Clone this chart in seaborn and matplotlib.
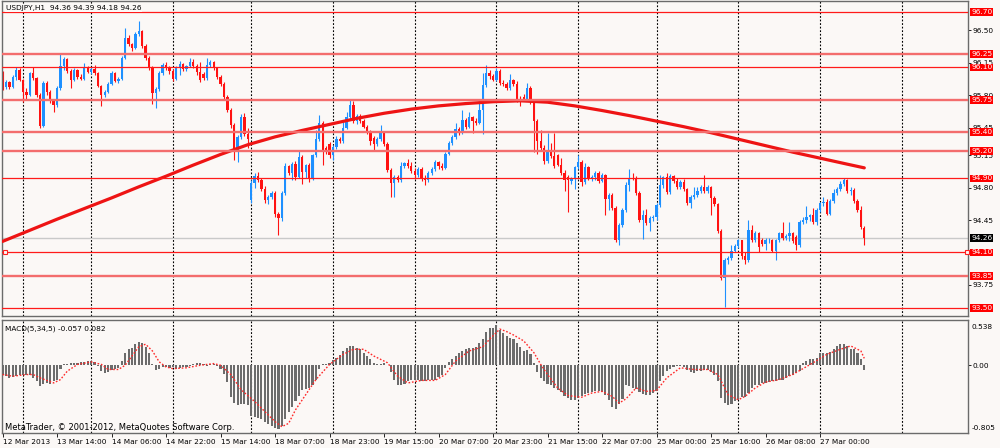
import numpy as np
import pandas as pd
import matplotlib
matplotlib.use("Agg")
import matplotlib.pyplot as plt
import seaborn as sns

# ---------------- data ----------------
header_text = "USDJPY,H1  94.36 94.39 94.18 94.26"
macd_text = "MACD(5,34,5) -0.057 0.082"
copyright_text = "MetaTrader, \u00a9 2001-2012, MetaQuotes Software Corp."

opens = [
    96.04, 95.89, 95.94, 95.89, 96.00, 96.07, 95.97, 95.84, 95.80, 96.04,
    95.99, 95.80, 95.47, 95.93, 95.84, 95.74, 95.69, 95.88, 96.12, 96.19,
    96.06, 95.97, 96.07, 96.00, 95.98, 96.10, 96.05, 96.08, 96.04, 95.90,
    95.80, 95.84, 95.92, 96.04, 95.95, 95.98, 96.20, 96.42, 96.35, 96.31,
    96.46, 96.49, 96.33, 96.20, 96.09, 95.82, 95.87, 96.04, 96.13, 96.10,
    96.06, 95.98, 96.10, 96.14, 96.08, 96.12, 96.16, 96.12, 96.05, 96.03,
    95.99, 96.13, 96.16, 96.09, 96.00, 95.92, 95.78, 95.64, 95.48, 95.21,
    95.35, 95.57, 95.38, 94.67, 94.85, 94.93, 94.88, 94.79, 94.67, 94.70,
    94.74, 94.52, 94.47, 94.74, 95.03, 94.96, 95.06, 94.92, 95.13, 94.97,
    95.05, 94.90, 95.15, 95.33, 95.50, 95.23, 95.27, 95.15, 95.24, 95.33,
    95.30, 95.45, 95.56, 95.69, 95.52, 95.58, 95.52, 95.46, 95.40, 95.34,
    95.27, 95.33, 95.40, 95.27, 94.99, 94.85, 94.92, 94.88, 95.04, 95.07,
    95.03, 94.98, 94.94, 95.00, 94.90, 94.88, 94.96, 95.00, 95.08, 95.04,
    95.01, 95.17, 95.28, 95.35, 95.44, 95.40, 95.53, 95.46, 95.57, 95.52,
    95.50, 95.64, 95.91, 96.04, 96.01, 95.97, 96.06, 95.93, 95.92, 95.88,
    95.96, 95.92, 95.75, 95.78, 95.76, 95.88, 95.74, 95.52, 95.30, 95.23,
    95.09, 95.21, 95.14, 95.15, 95.05, 94.96, 94.92, 94.87, 94.90, 95.02,
    95.08, 94.86, 95.02, 94.90, 94.92, 94.96, 94.87, 94.94, 94.68, 94.72,
    94.58, 94.24, 94.40, 94.56, 94.83, 94.91, 94.90, 94.74, 94.45, 94.50,
    94.42, 94.47, 94.48, 94.61, 94.83, 94.92, 94.75, 94.93, 94.87, 94.81,
    94.86, 94.79, 94.63, 94.70, 94.72, 94.76, 94.81, 94.76, 94.81, 94.69,
    94.62, 94.33, 93.82, 94.02, 94.04, 94.12, 94.17, 94.23, 94.06, 94.02,
    94.34, 94.23, 94.31, 94.24, 94.19, 94.23, 94.24, 94.12, 94.23, 94.31,
    94.26, 94.28, 94.31, 94.27, 94.18, 94.43, 94.45, 94.48, 94.50, 94.43,
    94.56, 94.63, 94.65, 94.52, 94.66, 94.74, 94.79, 94.84, 94.88, 94.76,
    94.78, 94.66, 94.56, 94.36,
]
highs = [
    96.06, 95.96, 95.95, 96.02, 96.11, 96.09, 95.98, 95.88, 96.05, 96.11,
    96.00, 95.82, 95.95, 95.95, 95.86, 95.76, 95.90, 96.25, 96.21, 96.20,
    96.08, 96.09, 96.08, 96.03, 96.15, 96.12, 96.10, 96.13, 96.05, 95.91,
    95.86, 95.94, 96.06, 96.05, 96.00, 96.22, 96.53, 96.45, 96.37, 96.48,
    96.60, 96.50, 96.35, 96.22, 96.12, 95.89, 96.06, 96.15, 96.16, 96.12,
    96.08, 96.12, 96.17, 96.15, 96.13, 96.20, 96.19, 96.14, 96.16, 96.05,
    96.20, 96.18, 96.17, 96.11, 96.02, 95.94, 95.80, 95.66, 95.50, 95.37,
    95.60, 95.61, 95.45, 94.88, 94.96, 94.97, 94.91, 94.82, 94.72, 94.76,
    94.76, 94.54, 94.76, 95.07, 95.05, 95.08, 95.09, 95.20, 95.15, 95.06,
    95.07, 95.17, 95.42, 95.59, 95.52, 95.25, 95.29, 95.26, 95.36, 95.35,
    95.51, 95.62, 95.75, 95.74, 95.60, 95.60, 95.54, 95.48, 95.42, 95.36,
    95.35, 95.48, 95.41, 95.29, 95.01, 94.94, 94.94, 95.08, 95.08, 95.11,
    95.08, 95.01, 95.02, 95.02, 94.94, 94.98, 95.02, 95.10, 95.09, 95.07,
    95.19, 95.31, 95.37, 95.50, 95.46, 95.64, 95.55, 95.62, 95.58, 95.55,
    95.75, 96.04, 96.13, 96.07, 96.03, 96.09, 96.08, 95.96, 95.94, 96.03,
    95.98, 95.95, 95.79, 95.81, 95.93, 95.90, 95.76, 95.54, 95.42, 95.26,
    95.39, 95.28, 95.39, 95.17, 95.12, 94.99, 94.94, 94.92, 95.04, 95.15,
    95.10, 95.07, 95.04, 94.94, 94.98, 94.98, 94.96, 94.95, 94.74, 94.74,
    94.60, 94.42, 94.58, 94.86, 95.00, 94.96, 94.93, 94.76, 94.56, 94.57,
    94.49, 94.50, 94.63, 94.94, 94.93, 94.96, 94.95, 94.94, 94.90, 94.88,
    94.89, 94.80, 94.72, 94.81, 94.81, 94.83, 94.94, 94.83, 94.82, 94.71,
    94.64, 94.35, 94.04, 94.06, 94.18, 94.19, 94.25, 94.24, 94.10, 94.45,
    94.40, 94.33, 94.32, 94.26, 94.26, 94.26, 94.25, 94.25, 94.32, 94.43,
    94.30, 94.43, 94.32, 94.29, 94.45, 94.48, 94.60, 94.52, 94.58, 94.58,
    94.65, 94.70, 94.68, 94.68, 94.79, 94.81, 94.87, 94.90, 94.89, 94.81,
    94.80, 94.68, 94.60, 94.39,
]
lows = [
    95.86, 95.87, 95.87, 95.88, 95.96, 95.95, 95.73, 95.76, 95.79, 95.97,
    95.78, 95.45, 95.46, 95.80, 95.72, 95.62, 95.67, 95.86, 96.07, 96.04,
    95.88, 95.95, 95.98, 95.96, 95.97, 96.04, 96.03, 96.02, 95.89, 95.68,
    95.78, 95.82, 95.91, 95.94, 95.93, 95.96, 96.19, 96.33, 96.28, 96.30,
    96.44, 96.31, 96.18, 96.07, 95.71, 95.66, 95.85, 96.02, 96.07, 96.03,
    95.95, 95.96, 96.02, 96.06, 96.06, 96.10, 96.09, 96.02, 95.94, 95.96,
    95.97, 96.11, 96.07, 95.98, 95.90, 95.76, 95.62, 95.45, 95.10, 95.08,
    95.33, 95.36, 95.23, 94.64, 94.80, 94.86, 94.77, 94.64, 94.62, 94.68,
    94.48, 94.29, 94.44, 94.72, 94.94, 94.88, 94.88, 94.90, 94.84, 94.90,
    94.86, 94.88, 95.13, 95.31, 95.05, 95.16, 95.12, 95.10, 95.22, 95.28,
    95.28, 95.43, 95.54, 95.50, 95.49, 95.50, 95.45, 95.38, 95.26, 95.21,
    95.25, 95.31, 95.25, 94.97, 94.70, 94.70, 94.86, 94.86, 95.01, 95.01,
    94.96, 94.89, 94.92, 94.87, 94.83, 94.86, 94.94, 94.98, 95.00, 94.99,
    95.00, 95.15, 95.26, 95.33, 95.37, 95.38, 95.44, 95.45, 95.39, 95.48,
    95.49, 95.38, 95.89, 95.98, 95.95, 95.95, 95.91, 95.90, 95.86, 95.86,
    95.90, 95.73, 95.68, 95.74, 95.74, 95.70, 95.19, 95.17, 95.21, 95.06,
    95.07, 95.12, 95.01, 95.03, 94.94, 94.76, 94.54, 94.84, 94.79, 95.00,
    94.82, 94.84, 94.88, 94.87, 94.88, 94.85, 94.86, 94.51, 94.56, 94.56,
    94.21, 94.18, 94.38, 94.54, 94.76, 94.88, 94.72, 94.43, 94.25, 94.40,
    94.33, 94.44, 94.45, 94.59, 94.80, 94.73, 94.73, 94.85, 94.79, 94.79,
    94.77, 94.61, 94.58, 94.68, 94.70, 94.74, 94.74, 94.74, 94.51, 94.60,
    94.31, 93.80, 93.51, 93.98, 94.02, 94.10, 94.15, 94.03, 93.98, 94.00,
    94.21, 94.21, 94.11, 94.17, 94.13, 94.20, 94.10, 94.02, 94.21, 94.24,
    94.23, 94.22, 94.20, 94.13, 94.16, 94.41, 94.42, 94.44, 94.41, 94.40,
    94.54, 94.60, 94.50, 94.50, 94.64, 94.72, 94.77, 94.82, 94.74, 94.72,
    94.64, 94.54, 94.35, 94.18,
]
closes = [
    95.89, 95.94, 95.89, 96.00, 96.07, 95.97, 95.84, 95.80, 96.04, 95.99,
    95.80, 95.47, 95.93, 95.84, 95.74, 95.69, 95.88, 96.12, 96.19, 96.06,
    95.97, 96.07, 96.00, 95.98, 96.10, 96.05, 96.08, 96.04, 95.90, 95.80,
    95.84, 95.92, 96.04, 95.95, 95.98, 96.20, 96.42, 96.35, 96.31, 96.46,
    96.49, 96.33, 96.20, 96.09, 95.82, 95.87, 96.04, 96.13, 96.10, 96.06,
    95.98, 96.10, 96.14, 96.08, 96.12, 96.16, 96.12, 96.05, 95.97, 95.99,
    96.13, 96.16, 96.09, 96.00, 95.92, 95.78, 95.64, 95.48, 95.21, 95.35,
    95.57, 95.38, 95.33, 94.85, 94.93, 94.88, 94.79, 94.67, 94.70, 94.74,
    94.52, 94.47, 94.74, 95.03, 94.96, 95.06, 94.92, 95.13, 94.97, 95.05,
    94.90, 95.15, 95.33, 95.50, 95.20, 95.19, 95.15, 95.24, 95.33, 95.30,
    95.45, 95.56, 95.69, 95.52, 95.58, 95.52, 95.46, 95.40, 95.30, 95.27,
    95.33, 95.40, 95.27, 94.99, 94.85, 94.92, 94.88, 95.04, 95.07, 95.03,
    94.98, 94.94, 95.00, 94.90, 94.88, 94.96, 95.00, 95.08, 95.04, 95.01,
    95.17, 95.28, 95.35, 95.44, 95.40, 95.53, 95.46, 95.57, 95.52, 95.50,
    95.64, 95.91, 96.04, 96.01, 95.97, 96.06, 95.93, 95.92, 95.88, 95.96,
    95.92, 95.75, 95.73, 95.76, 95.88, 95.74, 95.52, 95.30, 95.23, 95.09,
    95.21, 95.14, 95.04, 95.05, 94.96, 94.88, 94.88, 94.90, 95.02, 95.08,
    94.86, 95.02, 94.90, 94.92, 94.96, 94.87, 94.94, 94.68, 94.72, 94.58,
    94.24, 94.40, 94.56, 94.83, 94.91, 94.90, 94.74, 94.45, 94.50, 94.42,
    94.47, 94.48, 94.61, 94.83, 94.92, 94.75, 94.93, 94.87, 94.81, 94.86,
    94.79, 94.63, 94.70, 94.72, 94.76, 94.81, 94.76, 94.81, 94.69, 94.62,
    94.33, 93.82, 94.02, 94.04, 94.12, 94.17, 94.23, 94.06, 94.02, 94.34,
    94.23, 94.31, 94.16, 94.19, 94.23, 94.24, 94.12, 94.23, 94.31, 94.26,
    94.28, 94.31, 94.22, 94.18, 94.43, 94.45, 94.48, 94.50, 94.43, 94.56,
    94.63, 94.65, 94.52, 94.66, 94.74, 94.79, 94.84, 94.88, 94.76, 94.78,
    94.66, 94.56, 94.38, 94.26,
]

# moving average (thick red curve), read at every 8th bar
ma_bar = [0, 8, 16, 24, 32, 40, 48, 56, 64, 72, 80, 88, 96, 104, 112, 120,
          128, 136, 144, 152, 160, 168, 176, 184, 192, 200, 208, 216, 224,
          232, 240, 248, 253]
ma_value = [94.22, 94.34, 94.46, 94.575, 94.69, 94.81, 94.925, 95.045,
            95.16, 95.265, 95.35, 95.42, 95.485, 95.55, 95.605, 95.65,
            95.685, 95.71, 95.73, 95.74, 95.725, 95.685, 95.635, 95.58,
            95.52, 95.46, 95.395, 95.325, 95.255, 95.185, 95.12, 95.055,
            95.015]

# MACD(5,34,5) histogram, one value per bar
macd_hist = [
    -0.11, -0.13, -0.15, -0.14, -0.13, -0.12, -0.11, -0.11, -0.12, -0.15,
    -0.19, -0.25, -0.22, -0.21, -0.22, -0.19, -0.17, -0.05, 0.01, 0.02,
    0.03, 0.03, 0.03, 0.04, 0.04, 0.05, 0.055, 0.04, -0.01, -0.07,
    -0.09, -0.08, -0.06, -0.05, -0.03, 0.05, 0.15, 0.19, 0.21, 0.25,
    0.28, 0.27, 0.22, 0.15, 0.01, -0.06, -0.05, -0.02, -0.02, -0.03,
    -0.02, -0.04, -0.035, -0.02, -0.02, -0.01, 0.02, 0.03, 0.03, 0.015,
    -0.005, 0.02, 0.015, -0.005, -0.05, -0.10, -0.20, -0.38, -0.45, -0.47,
    -0.46, -0.46, -0.47, -0.60, -0.62, -0.63, -0.64, -0.68, -0.70, -0.72,
    -0.74, -0.76, -0.72, -0.64, -0.56, -0.50, -0.43, -0.36, -0.29, -0.28,
    -0.27, -0.24, -0.17, -0.05, 0.01, 0.01, 0.03, 0.06, 0.09, 0.12,
    0.17, 0.21, 0.23, 0.23, 0.21, 0.19, 0.15, 0.11, 0.07, 0.03,
    0.02, 0.02, 0.03, 0.00, -0.08, -0.17, -0.23, -0.24, -0.22, -0.19,
    -0.18, -0.18, -0.17, -0.19, -0.19, -0.18, -0.17, -0.17, -0.14, -0.11,
    -0.03, 0.04, 0.07, 0.11, 0.14, 0.17, 0.19, 0.21, 0.21, 0.22,
    0.26, 0.31, 0.40, 0.44, 0.44, 0.48, 0.42, 0.38, 0.35, 0.33,
    0.31, 0.27, 0.22, 0.17, 0.18, 0.13, 0.03, -0.08, -0.15, -0.19,
    -0.22, -0.24, -0.27, -0.29, -0.32, -0.36, -0.39, -0.41, -0.41, -0.39,
    -0.37, -0.34, -0.33, -0.32, -0.31, -0.31, -0.32, -0.35, -0.41, -0.50,
    -0.52, -0.46, -0.40, -0.24, -0.25, -0.27, -0.28, -0.32, -0.34, -0.35,
    -0.35, -0.33, -0.31, -0.19, -0.13, -0.07, -0.04, -0.02, -0.005, -0.01,
    -0.02, -0.06, -0.08, -0.09, -0.07, -0.07, -0.06, -0.06, -0.08, -0.12,
    -0.19, -0.39, -0.45, -0.47, -0.46, -0.43, -0.41, -0.38, -0.38, -0.33,
    -0.27, -0.24, -0.23, -0.21, -0.21, -0.20, -0.19, -0.19, -0.18, -0.17,
    -0.15, -0.13, -0.11, -0.09, -0.07, 0.03, 0.05, 0.07, 0.07, 0.09,
    0.14, 0.15, 0.15, 0.155, 0.19, 0.23, 0.25, 0.25, 0.23, 0.19,
    0.19, 0.15, 0.07, -0.057,
]

# MACD signal (red dotted line)
signal_bar = [0, 3, 7, 9, 11, 15, 17, 19, 22, 26, 29, 31, 34, 36, 38, 40, 42,
              44, 46, 48, 50, 54, 58, 62, 64, 67, 70, 74, 77, 80, 82, 84, 86,
              89, 92, 96, 100, 103, 106, 109, 113, 116, 119, 123, 127, 130,
              133, 137, 141, 143, 146, 148, 150, 153, 156, 158, 160, 163, 166,
              170, 173, 176, 179, 181, 183, 186, 189, 192, 195, 199, 203, 207,
              210, 213, 216, 218, 221, 224, 228, 232, 235, 238, 242, 246, 249,
              252, 253]
signal_value = [-0.11, -0.13, -0.11, -0.11, -0.15, -0.21, -0.17, -0.07, 0.01,
                0.04, 0.01, -0.05, -0.05, 0.00, 0.11, 0.22, 0.25, 0.17, 0.04,
                -0.02, -0.04, -0.03, 0.00, 0.02, 0.00, -0.11, -0.29, -0.43,
                -0.55, -0.67, -0.73, -0.69, -0.53, -0.35, -0.17, 0.01, 0.13,
                0.19, 0.19, 0.11, 0.03, -0.13, -0.21, -0.18, -0.18, -0.11,
                0.05, 0.17, 0.22, 0.31, 0.43, 0.40, 0.36, 0.29, 0.15, 0.01,
                -0.11, -0.27, -0.36, -0.38, -0.33, -0.31, -0.37, -0.45, -0.40,
                -0.27, -0.31, -0.30, -0.15, -0.03, -0.05, -0.05, -0.11, -0.35,
                -0.41, -0.37, -0.27, -0.20, -0.17, -0.11, -0.04, 0.03, 0.13,
                0.19, 0.23, 0.17, 0.082]

# horizontal price levels (red lines with red price tags)
levels = [96.70, 96.25, 96.10, 95.75, 95.40, 95.20, 94.90, 94.10, 93.85, 93.50]
wide_levels = [96.25, 95.75, 95.40, 95.20, 93.85]
anchored_level = 94.10
last_price = 94.26

price_ticks = [96.50, 96.15, 95.80, 95.45, 95.15, 94.80, 94.45, 94.10, 93.75]
macd_max, macd_min = 0.538, -0.805

time_tick_bar = [0, 16, 32, 48, 64, 80, 96, 112, 128, 144, 160, 176, 192,
                 208, 224, 240]
time_tick_label = ["12 Mar 2013", "13 Mar 14:00", "14 Mar 06:00",
                   "14 Mar 22:00", "15 Mar 14:00", "18 Mar 07:00",
                   "18 Mar 23:00", "19 Mar 15:00", "20 Mar 07:00",
                   "20 Mar 23:00", "21 Mar 15:00", "22 Mar 07:00",
                   "25 Mar 00:00", "25 Mar 16:00", "26 Mar 08:00",
                   "27 Mar 00:00"]
day_start_bar = [6, 26, 50, 73, 97, 121, 145, 169, 192, 216, 240, 264]

# ---------------- style ----------------
sns.set_theme(style="white")
plt.rcParams["font.family"] = ["DejaVu Sans"]

BG = "#fbf8f6"
BULL = "#1e90ff"
BEAR = "#ff1212"
FS = 5.3
XLIM = (-0.164, 283.45)
YLIM = (93.4135, 96.8189)

fig = plt.figure(figsize=(10, 4.48), dpi=100, facecolor=BG)
ax = fig.add_axes([0.002, 132 / 448, 0.966, 315 / 448], facecolor=BG)
axm = fig.add_axes([0.002, 15 / 448, 0.966, 113 / 448], facecolor=BG)

# ---------------- price panel ----------------
n = len(closes)
bars = pd.DataFrame({"bar": np.arange(n), "open": opens, "high": highs,
                     "low": lows, "close": closes})
is_up = bars["close"] >= bars["open"]
bar_colors = np.where(is_up, BULL, BEAR).tolist()
ax.vlines(bars["bar"], bars["low"], bars["high"], colors=bar_colors,
          lw=0.8, zorder=2)
body_low = np.minimum(bars["open"], bars["close"])
body_len = np.maximum((bars["close"] - bars["open"]).abs(), 0.006)
ax.bar(bars["bar"], body_len, bottom=body_low, width=0.68, color=bar_colors,
       linewidth=0, zorder=2.2)

sns.lineplot(x=ma_bar, y=ma_value, ax=ax, color="#ee1414", lw=2.3,
             zorder=3, estimator=None)

ax.axhline(last_price, color="#c9c9c9", lw=1.0, zorder=1.5)
for v in levels:
    if v in wide_levels:
        ax.axhline(v, color="#f36d6d", lw=1.7, zorder=4)
    else:
        ax.axhline(v, color="#ff1a1a", lw=0.9, zorder=4)

blend = ax.get_yaxis_transform()
ax.plot([0.0028, 0.9985], [anchored_level, anchored_level], "s", ms=3.2,
        mfc=BG, mec="#ff2020", mew=0.8, transform=blend, zorder=5,
        clip_on=False)

for d in day_start_bar:
    ax.axvline(d, color="black", lw=0.8, ls=(0, (1.6, 1.6)), zorder=1)
    axm.axvline(d, color="black", lw=0.8, ls=(0, (1.6, 1.6)), zorder=1)

ax.set_xlim(*XLIM)
ax.set_ylim(*YLIM)
ax.set_xticks([])
ax.yaxis.tick_right()
ax.set_yticks(price_ticks)
ax.set_yticklabels([f"{v:.2f}" for v in price_ticks])
ax.tick_params(axis="y", right=True, left=False, length=2, width=0.6,
               pad=1.3, labelsize=FS, colors="black")
ax.set_xlabel("")
ax.set_ylabel("")

for v in levels:
    ax.annotate(f"{v:.2f}", xy=(1, v), xycoords=("axes fraction", "data"),
                xytext=(3, 0), textcoords="offset pixels", ha="left",
                va="center", fontsize=FS, color="white",
                bbox=dict(boxstyle="square,pad=0.12", fc="#ff0000", ec="none"),
                annotation_clip=False, zorder=6)
ax.annotate(f"{last_price:.2f}", xy=(1, last_price),
            xycoords=("axes fraction", "data"), xytext=(3, 0),
            textcoords="offset pixels", ha="left", va="center", fontsize=FS,
            color="white",
            bbox=dict(boxstyle="square,pad=0.12", fc="black", ec="none"),
            annotation_clip=False, zorder=6)

ax.text(0.0041, 1 - 7 / 315, header_text, transform=ax.transAxes, ha="left",
        va="center", fontsize=FS, color="black", zorder=7,
        bbox=dict(boxstyle="square,pad=0.12", fc=BG, ec="none"))

# ---------------- MACD panel ----------------
macd_df = pd.DataFrame({"bar": np.arange(n), "macd": macd_hist})
sns.barplot(data=macd_df, x="bar", y="macd", ax=axm, native_scale=True,
            color="#6c6c6c", saturation=1, width=0.62, errorbar=None,
            linewidth=0, zorder=2)
sns.lineplot(x=signal_bar, y=signal_value, ax=axm, color="#ff2a2a", lw=1.0,
             linestyle=(0, (1.2, 1.3)), zorder=3, estimator=None)

axm.set_xlim(*XLIM)
axm.set_ylim(macd_min, macd_max)
axm.set_xlabel("")
axm.set_ylabel("")
axm.yaxis.tick_right()
axm.set_yticks([0.0])
axm.set_yticklabels(["0.00"])
axm.tick_params(axis="y", right=True, left=False, length=2, width=0.6,
                pad=1.3, labelsize=FS, colors="black")
axm.set_xticks(time_tick_bar)
axm.set_xticklabels(time_tick_label)
axm.tick_params(axis="x", bottom=True, length=3, width=0.6, pad=1.2,
                labelsize=FS, colors="black")
for t in axm.get_xticklabels():
    t.set_horizontalalignment("left")

axm.annotate(f"{macd_max:.3f}", xy=(1, 1), xycoords="axes fraction",
             xytext=(4, -7), textcoords="offset pixels", ha="left",
             va="center", fontsize=FS, color="black", annotation_clip=False)
axm.annotate(f"{macd_min:.3f}", xy=(1, 0), xycoords="axes fraction",
             xytext=(4, 5), textcoords="offset pixels", ha="left",
             va="center", fontsize=FS, color="black", annotation_clip=False)

axm.text(0.003, 1 - 9 / 113, macd_text, transform=axm.transAxes, ha="left",
         va="center", fontsize=FS, color="black", zorder=7)
axm.text(0.0026, 6 / 113, copyright_text, transform=axm.transAxes,
         ha="left", va="center", fontsize=6.0, color="black", zorder=7)

for a in (ax, axm):
    for s in a.spines.values():
        s.set_visible(True)
        s.set_color("#6b6b6b")
        s.set_linewidth(1.0)

fig.savefig("out.png", dpi=100, facecolor=BG)
